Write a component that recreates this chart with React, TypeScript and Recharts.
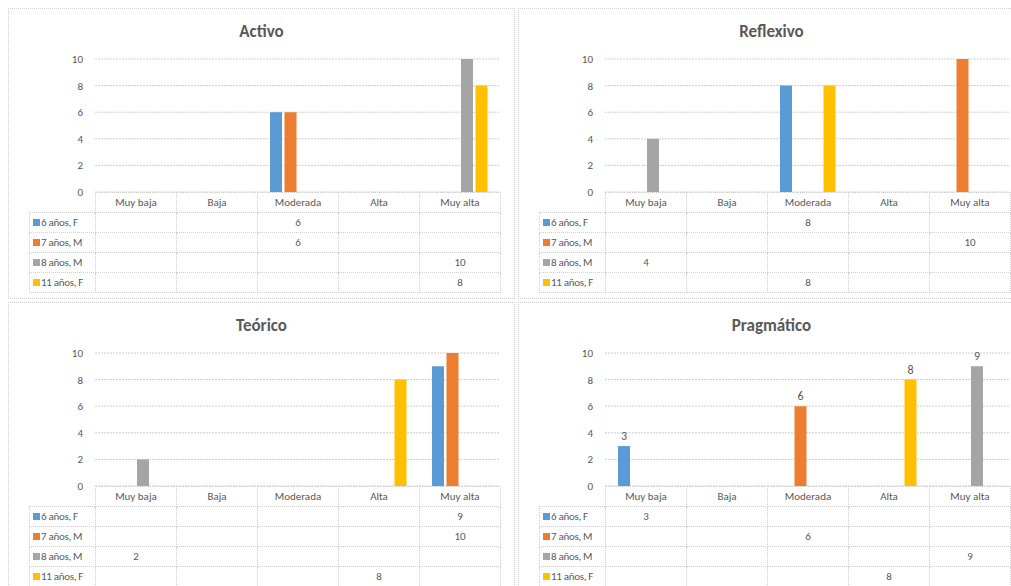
import React from "react";
import { BarChart, Bar, XAxis, YAxis, CartesianGrid, LabelList } from "recharts";

const categories = ["Muy baja", "Baja", "Moderada", "Alta", "Muy alta"];
const seriesNames = ["6 años, F", "7 años, M", "8 años, M", "11 años, F"];
const seriesColors = ["#5B9BD5", "#ED7D31", "#A5A5A5", "#FFC000"];
const yTicks = [0, 2, 4, 6, 8, 10];

type Val = number | null;

// Activo
const activo6F: Val[] = [null, null, 6, null, null];
const activo7M: Val[] = [null, null, 6, null, null];
const activo8M: Val[] = [null, null, null, null, 10];
const activo11F: Val[] = [null, null, null, null, 8];

// Reflexivo
const reflexivo6F: Val[] = [null, null, 8, null, null];
const reflexivo7M: Val[] = [null, null, null, null, 10];
const reflexivo8M: Val[] = [4, null, null, null, null];
const reflexivo11F: Val[] = [null, null, 8, null, null];

// Teórico
const teorico6F: Val[] = [null, null, null, null, 9];
const teorico7M: Val[] = [null, null, null, null, 10];
const teorico8M: Val[] = [2, null, null, null, null];
const teorico11F: Val[] = [null, null, null, 8, null];

// Pragmático
const pragmatico6F: Val[] = [3, null, null, null, null];
const pragmatico7M: Val[] = [null, null, 6, null, null];
const pragmatico8M: Val[] = [null, null, null, null, 9];
const pragmatico11F: Val[] = [null, null, null, 8, null];

const FONT = "Carlito, Calibri, Lato, 'Open Sans', sans-serif";
const TEXT = "#595959";
const LINE = "#cfcfcf";

interface PanelProps {
  title: string;
  series: Val[][];
  left: number;
  top: number;
  labels?: boolean;
}

function Panel({ title, series, left, top, labels = false }: PanelProps) {
  const data = categories.map((name, i) => {
    const row: Record<string, string | Val> = { name };
    series.forEach((s, k) => {
      row["s" + k] = s[i];
    });
    return row;
  });

  const cell: React.CSSProperties = {
    border: `1px dotted ${LINE}`,
    padding: 0,
    textAlign: "center",
    height: 19,
    lineHeight: "19px",
  };

  return (
    <div
      style={{
        position: "absolute",
        left,
        top,
        width: 505,
        height: 289,
        border: `1px dotted ${LINE}`,
        fontFamily: FONT,
        color: TEXT,
      }}
    >
      <div
        style={{
          position: "absolute",
          left: 0,
          width: 505,
          top: 12,
          textAlign: "center",
          fontSize: 17,
          fontWeight: 700,
          color: TEXT,
        }}
      >
        {title}
      </div>
      <div style={{ position: "absolute", left: 0, top: 0 }}>
        <BarChart
          width={505}
          height={190}
          data={data}
          margin={{ top: 50, right: 14, bottom: 7, left: 0 }}
          barSize={12}
          barGap={2.5}
        >
          <CartesianGrid vertical={false} stroke={LINE} strokeDasharray="2 1" />
          <XAxis dataKey="name" hide />
          <YAxis
            domain={[0, 10]}
            ticks={yTicks}
            width={86}
            axisLine={false}
            tickLine={false}
            tickSize={0}
            tickMargin={12}
            tick={{ fontSize: 11, fill: TEXT, fontFamily: FONT }}
          />
          {seriesNames.map((s, k) => (
            <Bar key={s} dataKey={"s" + k} name={s} fill={seriesColors[k]} isAnimationActive={false}>
              {labels && (
                <LabelList
                  dataKey={"s" + k}
                  position="top"
                  offset={6}
                  fill={TEXT}
                  fontSize={12}
                  fontFamily={FONT}
                />
              )}
            </Bar>
          ))}
        </BarChart>
      </div>
      <table
        style={{
          position: "absolute",
          left: 20,
          top: 183,
          width: 471,
          borderCollapse: "collapse",
          tableLayout: "fixed",
          fontSize: 11,
          color: TEXT,
          fontFamily: FONT,
        }}
      >
        <colgroup>
          <col style={{ width: 66 }} />
          {categories.map((c) => (
            <col key={c} style={{ width: 81 }} />
          ))}
        </colgroup>
        <tbody>
          <tr>
            <td style={{ padding: 0, height: 19 }} />
            {categories.map((c) => (
              <td key={c} style={cell}>
                {c}
              </td>
            ))}
          </tr>
          {seriesNames.map((s, k) => (
            <tr key={s}>
              <td
                style={{
                  ...cell,
                  textAlign: "left",
                  paddingLeft: 3,
                  whiteSpace: "nowrap",
                  overflow: "hidden",
                  letterSpacing: -0.3,
                }}
              >
                <span
                  style={{
                    display: "inline-block",
                    width: 7,
                    height: 7,
                    background: seriesColors[k],
                    marginRight: 1,
                  }}
                />
                {s}
              </td>
              {series[k].map((v, i) => (
                <td key={i} style={cell}>
                  {v ?? ""}
                </td>
              ))}
            </tr>
          ))}
        </tbody>
      </table>
    </div>
  );
}

export default function App() {
  return (
    <div
      style={{
        position: "absolute",
        left: 0,
        top: 0,
        width: 1011,
        height: 586,
        overflow: "hidden",
        background: "#fff",
      }}
    >
      <Panel title="Activo" series={[activo6F, activo7M, activo8M, activo11F]} left={8} top={8} />
      <Panel title="Reflexivo" series={[reflexivo6F, reflexivo7M, reflexivo8M, reflexivo11F]} left={518} top={8} />
      <Panel title="Teórico" series={[teorico6F, teorico7M, teorico8M, teorico11F]} left={8} top={302} />
      <Panel
        title="Pragmático"
        series={[pragmatico6F, pragmatico7M, pragmatico8M, pragmatico11F]}
        left={518}
        top={302}
        labels
      />
    </div>
  );
}
